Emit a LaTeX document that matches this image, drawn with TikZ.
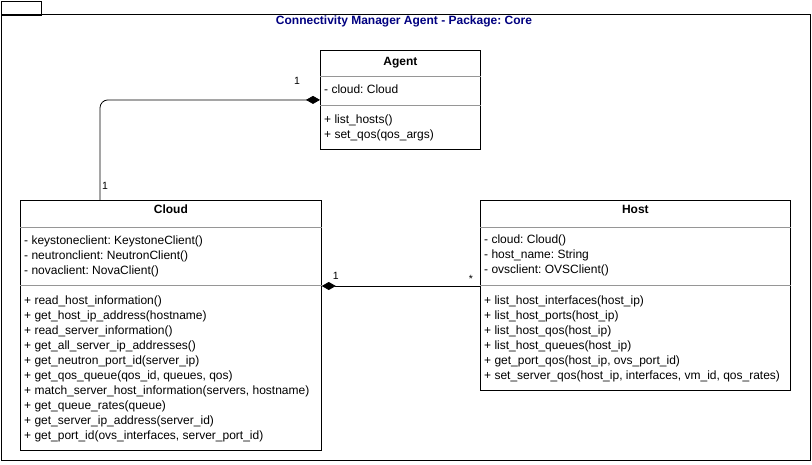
\documentclass[tikz,border=0pt]{standalone}
\usepackage{fontspec}
\setmainfont{Liberation Sans}
\usetikzlibrary{positioning, arrows.meta}
\definecolor{pkgblue}{RGB}{0,0,128}
\definecolor{sepgray}{RGB}{150,150,150}

\begin{document}
\begin{tikzpicture}[
    x=1pt, y=-1pt,
    font=\fontsize{12}{15}\selectfont\frenchspacing,
    umlbox/.style={draw, line width=0.8pt, anchor=north west, inner sep=0pt},
    head/.style={font=\fontsize{12}{15}\selectfont\bfseries\frenchspacing, anchor=base, inner sep=0pt},
    compart/.style={align=left, anchor=north west, inner sep=0pt},
    sep/.style={draw=sepgray, line width=0.6pt},
    comp/.style={{Diamond[length=14pt, width=8pt]}-, line width=0.8pt},
    mult/.style={font=\fontsize{10.5}{12}\selectfont, inner sep=0pt}]

  \useasboundingbox (0,0) rectangle (812,464);

  % === Package frame ===
  \node[umlbox, minimum width=40pt, minimum height=14pt] (tab) at (0.5,0.5) {};
  \node[umlbox, minimum width=809.5pt, minimum height=446pt] (pkg) at (0.5,14) {};
  \node[head, text=pkgblue] (title) at (404,24) {Connectivity Manager Agent - Package: Core};

  % === Agent ===
  \node[umlbox, minimum width=160pt, minimum height=99pt] (agent) at (320,50) {};
  \node[head] (agenthead) at ([yshift=-15pt]agent.north) {Agent};
  \draw[sep] ([yshift=-26pt]agent.north west) -- ([yshift=-26pt]agent.north east);
  \node[compart] (agentattr) at ([shift={(4,33)}]agent.north west) {\strut- cloud: Cloud};
  \draw[sep] ([yshift=-55pt]agent.north west) -- ([yshift=-55pt]agent.north east);
  \node[compart] (agentops) at ([shift={(4,62.5)}]agent.north west)
    {\strut+ list\_hosts()\\+ set\_qos(qos\_args)};

  % === Cloud ===
  \node[umlbox, minimum width=301pt, minimum height=250pt] (cloud) at (20,200) {};
  \node[head] (cloudhead) at ([yshift=-13.5pt]cloud.north) {Cloud};
  \draw[sep] ([yshift=-27pt]cloud.north west) -- ([yshift=-27pt]cloud.north east);
  \node[compart] (cloudattr) at ([shift={(4,33.5)}]cloud.north west)
    {\strut- keystoneclient: KeystoneClient()\\- neutronclient: NeutronClient()\\- novaclient: NovaClient()};
  \draw[sep] ([yshift=-85pt]cloud.north west) -- ([yshift=-85pt]cloud.north east);
  \node[compart] (cloudops) at ([shift={(4,93.5)}]cloud.north west)
    {\strut+ read\_host\_information()\\
     + get\_host\_ip\_address(hostname)\\
     + read\_server\_information()\\
     + get\_all\_server\_ip\_addresses()\\
     + get\_neutron\_port\_id(server\_ip)\\
     + get\_qos\_queue(qos\_id, queues, qos)\\
     + match\_server\_host\_information(servers, hostname)\\
     + get\_queue\_rates(queue)\\
     + get\_server\_ip\_address(server\_id)\\
     + get\_port\_id(ovs\_interfaces, server\_port\_id)};

  % === Host ===
  \node[umlbox, minimum width=310pt, minimum height=190pt] (host) at (480,200) {};
  \node[head] (hosthead) at ([yshift=-13.5pt]host.north) {Host};
  \draw[sep] ([yshift=-27pt]host.north west) -- ([yshift=-27pt]host.north east);
  \node[compart] (hostattr) at ([shift={(4,33)}]host.north west)
    {\strut- cloud: Cloud()\\- host\_name: String\\- ovsclient: OVSClient()};
  \draw[sep] ([yshift=-85pt]host.north west) -- ([yshift=-85pt]host.north east);
  \node[compart] (hostops) at ([shift={(4,93.5)}]host.north west)
    {\strut+ list\_host\_interfaces(host\_ip)\\
     + list\_host\_ports(host\_ip)\\
     + list\_host\_qos(host\_ip)\\
     + list\_host\_queues(host\_ip)\\
     + get\_port\_qos(host\_ip, ovs\_port\_id)\\
     + set\_server\_qos(host\_ip, interfaces, vm\_id, qos\_rates)};

  % === Compositions ===
  \draw[comp, rounded corners=8pt] (agent.west) -| ([xshift=80pt]cloud.north west);
  \draw[comp] ([yshift=-86pt]cloud.north east) -- ([yshift=-86pt]cloud.north east -| host.west);

  % Multiplicities
  \node[mult] (magent) at ([shift={(-23,-19.5)}]agent.west) {1};
  \node[mult] (mcloudtop) at ([shift={(85,-14)}]cloud.north west) {1};
  \node[mult] (mcloudright) at ([shift={(14,76)}]cloud.north east) {1};
  \node[mult] (mhost) at ([shift={(-9,79)}]host.north west) {*};

\end{tikzpicture}
\end{document}
